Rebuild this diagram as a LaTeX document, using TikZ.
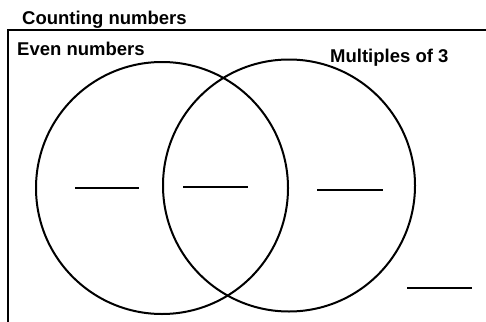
\documentclass[tikz,border=0pt]{standalone}
\usepackage{fontspec}
\setmainfont{Liberation Sans}
\begin{document}
\begin{tikzpicture}[x=1pt,y=-1pt,
  lbl/.style={anchor=base west,inner sep=0pt,font=\fontsize{18.5}{22}\selectfont\bfseries},
  setcircle/.style={draw,circle,line width=2pt,minimum size=252pt,inner sep=0pt},
  blank/.style={line width=2pt},
  frame/.style={line width=2pt}]
\useasboundingbox (0,0) rectangle (486,321);
% universal set frame
\coordinate (ftop) at (486,30);
\coordinate (fcorner) at (8,30);
\coordinate (fbot) at (8,322);
\draw[frame] (ftop) -- (fcorner) -- (fbot);
% labels
\node[lbl] (universe) at (22,25) {Counting numbers};
\node[lbl] (evenlbl) at (17,56) {Even numbers};
\node[lbl] (mult3lbl) at (330,63) {Multiples of 3};
% sets
\node[setcircle] (even) at (162,188) {};
\node[setcircle] (mult3) at (289,185.5) {};
% blanks
\coordinate (b1a) at (75,188);  \coordinate (b1b) at (139,188);
\coordinate (b2a) at (183,187); \coordinate (b2b) at (248,187);
\coordinate (b3a) at (317,190); \coordinate (b3b) at (383,190);
\coordinate (b4a) at (407,288); \coordinate (b4b) at (472,288);
\draw[blank] (b1a) -- (b1b);
\draw[blank] (b2a) -- (b2b);
\draw[blank] (b3a) -- (b3b);
\draw[blank] (b4a) -- (b4b);
\end{tikzpicture}
\end{document}
